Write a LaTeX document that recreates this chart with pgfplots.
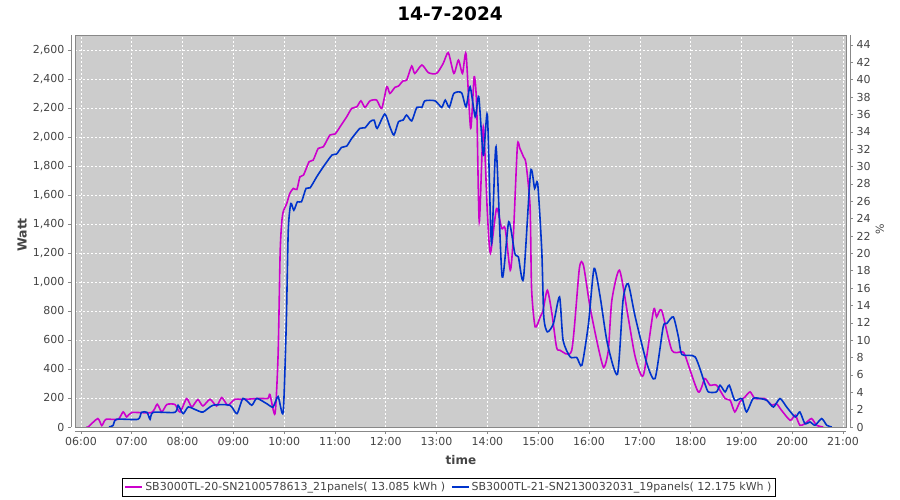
\documentclass[border=0pt]{standalone}
\usepackage{pgfplots}
\pgfplotsset{compat=1.18}
\usepackage{fontspec}
\setmainfont{DejaVu Sans}
\definecolor{mag}{RGB}{204,0,204}
\definecolor{blu}{RGB}{0,51,204}
\definecolor{bg}{RGB}{204,204,204}
\definecolor{txt}{RGB}{68,68,68}
\definecolor{axl}{RGB}{136,136,136}
\begin{document}
\begin{tikzpicture}[x=1pt,y=1pt]
\useasboundingbox (-75,-73) rectangle (825,427);
\node[font=\bfseries\fontsize{18.5}{20}\selectfont] at (375,413) {14-7-2024};
\begin{axis}[
  at={(0,0)}, anchor=south west,
  scale only axis, width=771pt, height=392pt,
  xmin=5.882, xmax=21.059, ymin=0, ymax=2703,
  axis x line*=bottom, axis y line*=left,
  axis line shift=4pt,
  axis line style={draw=axl},
  axis background/.style={fill=bg},
  tick align=outside, major tick length=3pt,
  tick style={draw=axl, line width=0.6pt},
  xtick={6,7,...,21},
  xticklabels={06:00,07:00,08:00,09:00,10:00,11:00,12:00,13:00,14:00,15:00,16:00,17:00,18:00,19:00,20:00,21:00},
  ytick={0,200,...,2600},
  /pgf/number format/1000 sep={,},
  /pgf/number format/assume math mode=true,
  ticklabel style={font=\fontsize{11}{13}\selectfont, text=txt},
  grid=major,
  major grid style={white, line width=0.6pt, dash pattern=on 2pt off 2pt},
  xlabel={time},
  xlabel style={font=\bfseries\fontsize{12}{14}\selectfont, text=txt, at={(axis description cs:0.5006,-0.084)}, anchor=center},
  ylabel={Watt},
  ylabel style={font=\bfseries\fontsize{12.5}{14}\selectfont, text=txt, at={(axis description cs:-0.0687,0.49)}, anchor=center},
  legend columns=2,
  legend cell align=left,
  legend style={at={(axis description cs:0.4852,-0.130)}, anchor=north, draw=black, fill=white,
    font=\fontsize{11}{13}\selectfont, text=txt, inner xsep=2pt, inner ysep=2pt,
    /tikz/every even column/.append style={column sep=4pt}},
  legend image code/.code={\draw[#1, line width=1.6pt] (0pt,0pt) -- (17pt,0pt);},
  every axis plot/.append style={line width=1.6pt, smooth, tension=0.4},
  after end axis/.code={\draw[axl, line width=0.8pt] (rel axis cs:0,0) rectangle (rel axis cs:1,1);},
]
\addplot[mag] coordinates {
(6.10,0) (6.14,0) (6.33,58) (6.41,10) (6.49,53) (6.73,53) (6.83,104) (6.90,70) (7.00,100) (7.39,100) (7.50,157) (7.59,103) (7.69,155) (7.85,155) (7.95,103) (8.08,196) (8.18,138) (8.30,189) (8.40,145) (8.54,191) (8.67,145) (8.77,203) (8.89,150) (9.03,191) (9.19,190) (9.50,197) (9.68,197) (9.72,224) (9.82,92) (9.88,500) (9.92,1200) (9.95,1403) (9.98,1484) (10.05,1541) (10.11,1610) (10.18,1645) (10.25,1638) (10.31,1725) (10.38,1737) (10.49,1829) (10.57,1840) (10.67,1921) (10.77,1932) (10.90,2013) (11.00,2020) (11.10,2070) (11.23,2139) (11.33,2197) (11.43,2208) (11.51,2249) (11.59,2204) (11.69,2249) (11.82,2254) (11.92,2197) (12.02,2346) (12.08,2300) (12.18,2342) (12.25,2351) (12.34,2387) (12.41,2392) (12.51,2489) (12.57,2438) (12.71,2496) (12.84,2443) (13.00,2438) (13.13,2507) (13.23,2581) (13.34,2438) (13.43,2530) (13.51,2438) (13.58,2572) (13.67,2059) (13.74,2415) (13.79,2208) (13.84,1415) (13.92,2070) (14.00,1472) (14.06,1200) (14.18,1507) (14.28,1369) (14.35,1369) (14.45,1081) (14.51,1311) (14.59,1937) (14.64,1920) (14.71,1863) (14.76,1817) (14.84,1518) (14.87,950) (14.94,690) (15.04,759) (15.09,794) (15.18,943) (15.27,782) (15.36,552) (15.43,529) (15.66,529) (15.81,1093) (15.89,1116) (16.02,828) (16.18,552) (16.29,410) (16.38,529) (16.45,874) (16.60,1081) (16.77,759) (16.91,483) (17.07,357) (17.27,805) (17.33,759) (17.43,805) (17.63,529) (17.82,518) (17.89,495) (18.15,242) (18.28,334) (18.38,288) (18.51,288) (18.68,196) (18.78,184) (18.87,104) (18.97,173) (19.07,207) (19.17,242) (19.27,196) (19.46,196) (19.60,150) (19.69,161) (19.79,115) (19.96,46) (20.06,81) (20.15,12) (20.25,23) (20.38,58) (20.48,12) (20.61,0)
};
\addlegendentry{SB3000TL-20-SN2100578613\_21panels( 13.085 kWh )}
\addplot[blu] coordinates {
(6.55,0) (6.63,10) (6.70,53) (7.12,53) (7.19,101) (7.30,101) (7.36,53) (7.42,101) (7.85,101) (7.91,150) (8.01,92) (8.11,138) (8.25,120) (8.40,103) (8.60,150) (8.93,150) (9.07,92) (9.19,197) (9.36,150) (9.46,197) (9.66,160) (9.78,138) (9.88,210) (9.98,103) (10.04,700) (10.08,1357) (10.13,1541) (10.19,1495) (10.26,1553) (10.34,1553) (10.43,1645) (10.51,1649) (10.64,1725) (10.77,1794) (10.94,1875) (11.03,1882) (11.13,1928) (11.23,1937) (11.33,1990) (11.49,2059) (11.59,2063) (11.69,2105) (11.77,2116) (11.83,2059) (11.98,2158) (12.08,2070) (12.16,2013) (12.25,2105) (12.34,2116) (12.41,2151) (12.51,2111) (12.61,2204) (12.71,2204) (12.77,2249) (12.97,2249) (13.10,2204) (13.17,2254) (13.25,2204) (13.34,2300) (13.49,2305) (13.58,2208) (13.66,2346) (13.76,2139) (13.83,2277) (13.92,1875) (14.00,2151) (14.08,1265) (14.17,1932) (14.29,1035) (14.42,1415) (14.54,1196) (14.61,1173) (14.71,1024) (14.85,1760) (14.93,1645) (14.99,1679) (15.07,1219) (15.11,760) (15.18,656) (15.30,713) (15.42,897) (15.49,598) (15.63,483) (15.76,479) (15.86,426) (15.99,713) (16.10,1093) (16.22,897) (16.36,580) (16.56,364) (16.67,874) (16.77,989) (16.91,759) (17.14,437) (17.30,334) (17.46,690) (17.53,713) (17.66,759) (17.76,621) (17.83,500) (18.09,483) (18.28,299) (18.35,242) (18.51,242) (18.58,288) (18.68,242) (18.76,288) (18.87,184) (19.01,196) (19.10,104) (19.23,196) (19.37,196) (19.50,184) (19.63,138) (19.76,196) (19.89,138) (20.06,69) (20.15,104) (20.25,23) (20.35,35) (20.45,12) (20.58,58) (20.68,12) (20.78,0)
};
\addlegendentry{SB3000TL-21-SN2130032031\_19panels( 12.175 kWh )}
\end{axis}
\begin{axis}[
  at={(0,0)}, anchor=south west,
  scale only axis, width=771pt, height=392pt,
  xmin=5.882, xmax=21.059, ymin=0, ymax=45.15,
  axis x line=none, axis y line*=right,
  axis y line shift=4pt,
  axis line style={draw=axl},
  tick align=outside, major tick length=3pt,
  tick style={draw=axl, line width=0.6pt},
  ytick={0,2,...,44},
  /pgf/number format/assume math mode=true,
  ticklabel style={font=\fontsize{11}{13}\selectfont, text=txt},
  ylabel={\%},
  ylabel style={font=\fontsize{11}{13}\selectfont, text=txt, at={(axis description cs:1.044,0.505)}, anchor=center, rotate=0},
]
\end{axis}
\end{tikzpicture}
\end{document}
